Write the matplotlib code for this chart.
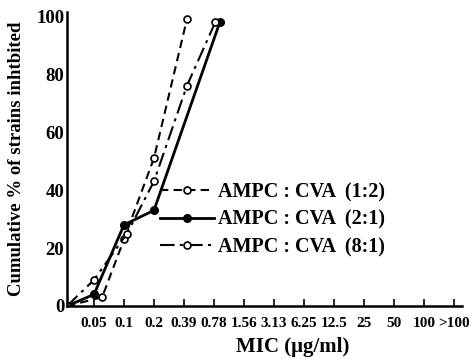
import matplotlib.pyplot as plt

mic_labels = ['0.05', '0.1', '0.2', '0.39', '0.78', '1.56', '3.13', '6.25',
              '12.5', '25', '50', '100', '>100']

# x given as category index (0.05 -> 1, 0.1 -> 2, ...), origin at 0.1
x_12 = [0.1, 1.27, 2.0, 3.0, 4.1]
y_12 = [0, 3, 23, 51, 99]
x_21 = [0.1, 1.0, 2.0, 3.0, 5.2]
y_21 = [0, 4, 28, 33, 98]
x_81 = [0.1, 1.0, 2.1, 3.0, 4.1, 5.05]
y_81 = [0, 9, 25, 43, 76, 98]

plt.rcParams['font.family'] = 'Liberation Serif'
plt.rcParams['font.weight'] = 'bold'

fig = plt.figure(figsize=(4.72, 3.59), dpi=100)
ax = fig.add_axes([67/472, 1-306/359, 395/472, 294/359])

ax.plot(x_12, y_12, color='black', ls=(0, (4, 2.5)), lw=1.5, marker='o',
        ms=5, mfc='white', mec='black', mew=1.2, label='AMPC : CVA  (1:2)')
ax.plot(x_21, y_21, color='black', ls='-', lw=2, marker='o',
        ms=5.5, mfc='black', mec='black', label='AMPC : CVA  (2:1)')
ax.plot(x_81, y_81, color='black', ls=(0, (7, 2.5, 1.5, 2.5)), lw=1.5, marker='o',
        ms=5, mfc='white', mec='black', mew=1.2, label='AMPC : CVA  (8:1)')

ax.set_xlim(0.1, 13.27)
ax.set_ylim(0, 101.4)
ax.set_xticks(range(1, 14))
ax.set_xticklabels(mic_labels, fontsize=11, fontweight='bold')
ax.set_yticks([0, 20, 40, 60, 80, 100])
ax.tick_params(axis='x', direction='in', length=5, width=1.2, pad=8)
ax.tick_params(axis='y', length=0, labelsize=13.5, pad=2)
for s in ['top', 'right']:
    ax.spines[s].set_visible(False)
for s in ['left', 'bottom']:
    ax.spines[s].set_linewidth(1.8)

ax.set_ylabel('Cumulative % of strains inhtbited', fontsize=13.5,
              fontweight='bold', labelpad=8)
ax.set_xlabel('MIC (μg/ml)', fontsize=15, fontweight='bold')
ax.xaxis.set_label_coords(0.572, -0.105)

ax.legend(loc='upper left', bbox_to_anchor=(160/472, 1-182/359),
          bbox_transform=fig.transFigure, frameon=False,
          prop={'size': 14.5, 'weight': 'bold'},
          handlelength=2.7, handletextpad=0.2, labelspacing=0.38,
          borderpad=0, borderaxespad=0)

fig.savefig('out.png', dpi=100)
